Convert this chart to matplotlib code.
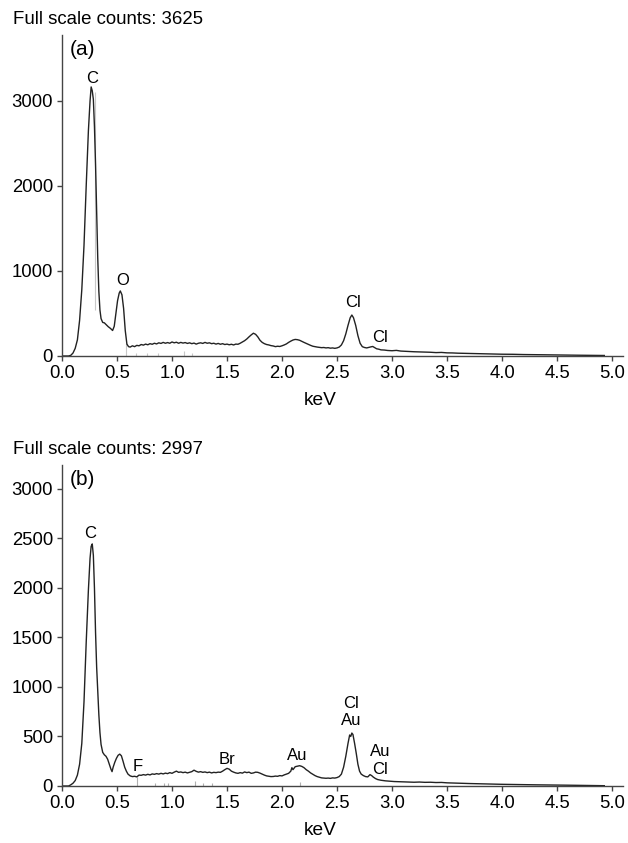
import numpy as np
import matplotlib
matplotlib.use("Agg")
import matplotlib.pyplot as plt

plt.rcParams["font.family"] = ["Liberation Sans", "DejaVu Sans"]

# ---- spectrum (a) ----
kev_a = [0.00, 0.06, 0.08, 0.10, 0.12, 0.14, 0.16, 0.18, 0.20, 0.22, 0.24, 0.255, 0.265, 0.275,
         0.285, 0.295, 0.305, 0.315, 0.325, 0.335, 0.345, 0.355, 0.37, 0.385, 0.40, 0.42, 0.44,
         0.46, 0.475, 0.49, 0.505, 0.52, 0.53, 0.545, 0.56, 0.575, 0.59, 0.605, 0.62, 0.64, 0.66,
         0.68, 0.70, 0.72, 0.74, 0.76, 0.78, 0.80, 0.82, 0.84, 0.86, 0.88, 0.90, 0.92, 0.94, 0.96,
         0.98, 1.00, 1.02, 1.04, 1.06, 1.08, 1.10, 1.12, 1.14, 1.16, 1.18, 1.20, 1.22, 1.24, 1.26,
         1.28, 1.30, 1.32, 1.34, 1.36, 1.38, 1.40, 1.42, 1.44, 1.46, 1.48, 1.50, 1.52, 1.54, 1.56,
         1.58, 1.60, 1.62, 1.64, 1.66, 1.68, 1.70, 1.72, 1.74, 1.76, 1.78, 1.80, 1.82, 1.84, 1.86,
         1.88, 1.90, 1.92, 1.94, 1.96, 1.98, 2.00, 2.02, 2.04, 2.06, 2.08, 2.10, 2.12, 2.14, 2.16,
         2.18, 2.20, 2.22, 2.24, 2.26, 2.28, 2.30, 2.32, 2.34, 2.36, 2.38, 2.40, 2.42, 2.44, 2.46,
         2.48, 2.50, 2.52, 2.54, 2.56, 2.58, 2.60, 2.62, 2.635, 2.65, 2.67, 2.69, 2.71, 2.73, 2.75,
         2.77, 2.79, 2.81, 2.825, 2.84, 2.86, 2.88, 2.90, 2.93, 2.96, 3.00, 3.04, 3.08, 3.12, 3.16,
         3.20, 3.25, 3.30, 3.35, 3.40, 3.45, 3.50, 3.55, 3.60, 3.70, 3.80, 3.90, 4.00, 4.10, 4.20,
         4.30, 4.40, 4.50, 4.60, 4.70, 4.80, 4.93]
counts_a = [0, 0, 8, 35, 90, 190, 420, 780, 1300, 2000, 2650, 3000, 3165, 3120,
            3020, 2700, 2250, 1700, 1150, 760, 540, 440, 395, 390, 370, 345, 325,
            300, 350, 500, 650, 740, 765, 720, 560, 300, 140, 110, 105, 120, 110,
            125, 120, 135, 128, 140, 132, 145, 138, 150, 142, 155, 148, 160, 150, 158,
            150, 165, 155, 162, 150, 160, 152, 158, 148, 155, 145, 152, 140, 150, 155,
            148, 160, 150, 155, 145, 150, 140, 148, 138, 145, 135, 140, 132, 138, 130,
            140, 138, 150, 165, 180, 200, 225, 248, 268, 255, 225, 185, 160, 145, 135,
            130, 122, 118, 110, 115, 112, 120, 130, 142, 160, 175, 188, 195, 192, 185,
            172, 160, 148, 135, 125, 115, 110, 105, 102, 98, 100, 95, 98, 92, 95,
            90, 95, 105, 130, 180, 260, 360, 450, 482, 450, 360, 240, 150, 110, 100,
            95, 102, 108, 112, 100, 85, 80, 72, 70, 65, 62, 66, 58, 55, 52,
            50, 48, 46, 44, 40, 42, 37, 36, 33, 30, 27, 25, 21, 20, 17,
            16, 14, 12, 11, 9, 8, 6]

# ---- spectrum (b) ----
kev_b = [0.00, 0.06, 0.08, 0.10, 0.12, 0.14, 0.16, 0.18, 0.20, 0.22, 0.24, 0.255, 0.265, 0.275,
         0.285, 0.295, 0.305, 0.315, 0.325, 0.335, 0.345, 0.355, 0.37, 0.385, 0.40, 0.415, 0.43,
         0.445, 0.455, 0.465, 0.48, 0.495, 0.51, 0.525, 0.54, 0.555, 0.57, 0.585, 0.60, 0.62, 0.64,
         0.66, 0.68, 0.70, 0.72, 0.74, 0.76, 0.78, 0.80, 0.82, 0.84, 0.86, 0.88, 0.90, 0.92, 0.94,
         0.96, 0.98, 1.00, 1.02, 1.04, 1.06, 1.08, 1.10, 1.12, 1.14, 1.16, 1.18, 1.20, 1.22, 1.24,
         1.26, 1.28, 1.30, 1.32, 1.34, 1.36, 1.38, 1.40, 1.42, 1.44, 1.46, 1.48, 1.50, 1.52, 1.54,
         1.56, 1.58, 1.60, 1.62, 1.64, 1.66, 1.68, 1.70, 1.72, 1.74, 1.76, 1.78, 1.80, 1.82, 1.84,
         1.86, 1.88, 1.90, 1.92, 1.94, 1.96, 1.98, 2.00, 2.02, 2.04, 2.06, 2.08, 2.09, 2.10, 2.12,
         2.14, 2.16, 2.18, 2.20, 2.22, 2.24, 2.26, 2.28, 2.30, 2.32, 2.34, 2.36, 2.38, 2.40, 2.42,
         2.44, 2.46, 2.48, 2.50, 2.52, 2.54, 2.56, 2.58, 2.60, 2.615, 2.625, 2.635, 2.645, 2.66,
         2.675, 2.69, 2.705, 2.72, 2.74, 2.76, 2.78, 2.80, 2.815, 2.83, 2.85, 2.87, 2.90, 2.94,
         2.98, 3.02, 3.06, 3.10, 3.15, 3.20, 3.25, 3.30, 3.35, 3.40, 3.45, 3.50, 3.60, 3.70, 3.80,
         3.90, 4.00, 4.10, 4.20, 4.30, 4.40, 4.50, 4.60, 4.70, 4.80, 4.93]
counts_b = [0, 0, 12, 28, 55, 110, 220, 430, 850, 1450, 1980, 2300, 2420, 2445,
            2330, 2000, 1550, 1200, 950, 720, 540, 420, 340, 315, 300, 270, 220,
            170, 145, 190, 240, 280, 310, 322, 305, 250, 190, 150, 120, 102, 95,
            98, 92, 110, 108, 115, 110, 118, 112, 122, 118, 125, 120, 128, 122, 130,
            125, 135, 128, 140, 150, 138, 142, 135, 140, 132, 138, 145, 160, 148, 140,
            145, 138, 142, 135, 140, 132, 138, 135, 140, 138, 150, 165, 178, 170, 150,
            140, 132, 128, 135, 130, 142, 135, 140, 128, 132, 140, 138, 130, 120, 110,
            102, 98, 95, 96, 100, 98, 105, 102, 112, 120, 128, 150, 185, 165, 195,
            200, 205, 198, 185, 165, 150, 132, 118, 105, 95, 88, 82, 80, 78, 80,
            77, 82, 80, 85, 95, 120, 190, 300, 430, 515, 500, 535, 520, 430,
            330, 220, 150, 120, 105, 95, 92, 115, 105, 90, 75, 65, 58, 52,
            48, 45, 44, 42, 40, 38, 40, 37, 38, 35, 36, 32, 28, 25, 22,
            20, 17, 15, 14, 12, 11, 9, 8, 6, 5, 3]

# faint element marker lines (keV, bottom, top)
mark_a_kev = [0.30, 0.58, 0.67, 0.77, 0.875, 1.11, 1.18]
mark_a_lo = [540, 0, 0, 0, 0, 0, 0]
mark_a_hi = [3100, 150, 40, 40, 40, 60, 40]
mark_b_kev = [0.68, 0.845, 0.93, 0.965, 1.21, 1.28, 1.36, 2.16]
mark_b_hi = [90, 35, 35, 35, 50, 35, 30, 40]

# peak labels
lab_a = ["C", "O", "Cl", "Cl"]
lab_a_x = [0.27, 0.55, 2.65, 2.89]
lab_a_y = [3270, 894, 627, 216]
lab_b = ["C", "F", "Br", "Au", "Cl", "Au", "Au", "Cl"]
lab_b_x = [0.26, 0.69, 1.50, 2.14, 2.63, 2.63, 2.89, 2.89]
lab_b_y = [2552, 195, 270, 306, 835, 660, 346, 169]

fig = plt.figure(figsize=(6.28, 8.43), dpi=100)
W, H = 628, 843


def panel(rect_px, kev, counts, ymax, yticks, labx, laby, labs, tag, full):
    x0, y0, x1, y1 = rect_px
    ax = fig.add_axes([x0 / W, 1 - y1 / H, (x1 - x0) / W, (y1 - y0) / H])
    ax.plot(kev, counts, color="#222222", lw=1.0)
    ax.set_xlim(0, 5.1)
    ax.set_ylim(0, ymax)
    ax.set_xticks(np.arange(0, 5.01, 0.5))
    ax.set_xticklabels([f"{v:.1f}" for v in np.arange(0, 5.01, 0.5)])
    ax.set_yticks(yticks)
    for s in ["top", "right"]:
        ax.spines[s].set_visible(False)
    for s in ["left", "bottom"]:
        ax.spines[s].set_color("#444444")
        ax.spines[s].set_linewidth(1.0)
    ax.tick_params(labelsize=13.3, length=3.5, width=1, color="#444444", pad=3)
    ax.set_xlabel("keV", fontsize=13.8)
    ax.xaxis.set_label_coords(0.46, -0.138)
    ax.xaxis.label.set_va("center")
    for t, x, y in zip(labs, labx, laby):
        ax.text(x, y, t, fontsize=12, ha="center", va="center")
    ax.text(0.013, 0.955, tag, transform=ax.transAxes, fontsize=15, ha="left", va="center")
    fig.text(13 / W, 1 - (y0 - 15) / H, full, fontsize=13.4, ha="left", va="center")
    return ax


ax1 = panel((62, 35, 623, 356), kev_a, counts_a, 3776, [0, 1000, 2000, 3000],
            lab_a_x, lab_a_y, lab_a, "(a)", "Full scale counts: 3625")
ax1.vlines(mark_a_kev, mark_a_lo, mark_a_hi, color="#c8c8c8", lw=0.8, zorder=1)

ax2 = panel((62, 465, 623, 786), kev_b, counts_b, 3242, [0, 500, 1000, 1500, 2000, 2500, 3000],
            lab_b_x, lab_b_y, lab_b, "(b)", "Full scale counts: 2997")
ax2.vlines(mark_b_kev, 0, mark_b_hi, color="#b0b0b0", lw=0.8, zorder=1)

fig.savefig("out.png", dpi=100)
